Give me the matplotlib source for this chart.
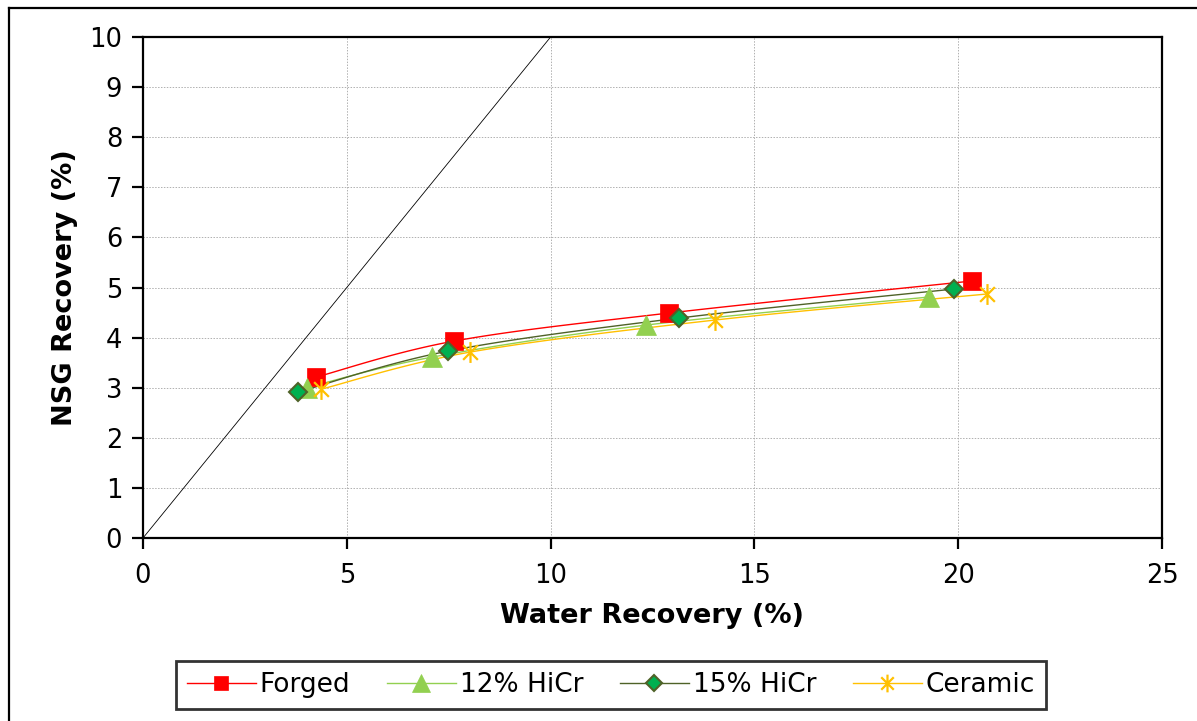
import numpy as np
import matplotlib
matplotlib.use("Agg")
import matplotlib.pyplot as plt
from matplotlib.path import Path
from matplotlib.lines import Line2D

# ---- data ----
series_names = ["Forged", "12% HiCr", "15% HiCr", "Ceramic"]
forged_x = [4.24, 7.63, 12.90, 20.34]
forged_y = [3.21, 3.93, 4.49, 5.13]
hicr12_x = [4.02, 7.09, 12.34, 19.28]
hicr12_y = [3.00, 3.61, 4.25, 4.81]
hicr15_x = [3.80, 7.48, 13.15, 19.90]
hicr15_y = [2.91, 3.73, 4.39, 4.97]
ceramic_x = [4.37, 8.02, 14.03, 20.70]
ceramic_y = [2.97, 3.71, 4.35, 4.87]
ref_x = [0, 10]
ref_y = [0, 10]

plt.rcParams['font.family'] = ['DejaVu Sans']

def smooth(xs, ys, n=30):
    # Excel-like smoothed line: cubic Bezier segments with Catmull-Rom control points
    P = np.column_stack([xs, ys]).astype(float)
    pts = []
    m = len(P)
    for i in range(m - 1):
        p0 = P[i - 1] if i > 0 else P[i]
        p1 = P[i]
        p2 = P[i + 1]
        p3 = P[i + 2] if i + 2 < m else P[i + 1]
        c1 = p1 + (p2 - p0) / 6.0
        c2 = p2 - (p3 - p1) / 6.0
        t = np.linspace(0, 1, n)[:, None]
        seg = ((1 - t) ** 3) * p1 + 3 * ((1 - t) ** 2) * t * c1 + 3 * (1 - t) * t ** 2 * c2 + t ** 3 * p2
        pts.append(seg if i == 0 else seg[1:])
    pts = np.vstack(pts)
    return pts[:, 0], pts[:, 1]

# asterisk marker: vertical line + X
star_verts = [(0, -1), (0, 1), (-0.707, -0.707), (0.707, 0.707), (-0.707, 0.707), (0.707, -0.707)]
star_codes = [Path.MOVETO, Path.LINETO] * 3
star_marker = Path(star_verts, star_codes)

fig = plt.figure(figsize=(11.97, 7.21), dpi=100)
ax = fig.add_axes([143 / 1197, 1 - 538 / 721, (1162 - 143) / 1197, (538 - 37) / 721])

styles = [
    dict(x=forged_x, y=forged_y, color="#FF0000", marker="s", mfc="#FF0000", mec="#FF0000", ms=12.5, mew=0.5),
    dict(x=hicr12_x, y=hicr12_y, color="#92D050", marker="^", mfc="#92D050", mec="#92D050", ms=15, mew=0.5),
    dict(x=hicr15_x, y=hicr15_y, color="#4F6228", marker="D", mfc="#00B050", mec="#4F6228", ms=9, mew=1.5),
    dict(x=ceramic_x, y=ceramic_y, color="#FFC000", marker=star_marker, mfc="none", mec="#FFC000", ms=15, mew=1.6),
]

ax.plot(ref_x, ref_y, color="black", lw=0.6, zorder=2)

handles = []
for name, st in zip(series_names, styles):
    sx, sy = smooth(st["x"], st["y"])
    ax.plot(sx, sy, color=st["color"], lw=1.0, zorder=3)
    ax.plot(st["x"], st["y"], ls="none", marker=st["marker"], mfc=st["mfc"], mec=st["mec"],
            ms=st["ms"], mew=st["mew"], zorder=4)
    handles.append(Line2D([0], [0], color=st["color"], lw=1.0, marker=st["marker"], mfc=st["mfc"],
                          mec=st["mec"], ms=st["ms"] * 0.85, mew=st["mew"], label=name))

ax.set_xlim(0, 25)
ax.set_ylim(0, 10)
ax.set_xticks(range(0, 26, 5))
ax.set_yticks(range(0, 11, 1))
ax.grid(True, color="#B0B0B0", ls=(0, (1.5, 1.5)), lw=0.7)
ax.set_axisbelow(True)
for s in ax.spines.values():
    s.set_color("black")
    s.set_linewidth(1.6)
ax.tick_params(axis="both", direction="out", length=8, width=1.6, labelsize=18.5, colors="black")
ax.tick_params(axis="x", pad=10)
ax.tick_params(axis="y", pad=7)
ax.set_xlabel("Water Recovery (%)", fontsize=19.5, fontweight="bold", labelpad=10)
ax.set_ylabel("NSG Recovery (%)", fontsize=19.5, fontweight="bold", labelpad=8)

leg = fig.legend(handles=handles, loc="center", bbox_to_anchor=(611 / 1197, 1 - 685 / 721), ncol=4,
                 fontsize=19, frameon=True, fancybox=False, handlelength=2.6, handletextpad=0.15,
                 columnspacing=1.4, borderpad=0.4)
leg.get_frame().set_edgecolor("black")
leg.get_frame().set_linewidth(2.0)

# outer chart border (left and top visible)
fig.add_artist(Line2D([9 / 1197, 9 / 1197], [0, 1 - 8 / 721], color="black", lw=1.6, transform=fig.transFigure))
fig.add_artist(Line2D([9 / 1197, 1], [1 - 8 / 721, 1 - 8 / 721], color="black", lw=1.6, transform=fig.transFigure))

fig.savefig("out.png", dpi=100)
